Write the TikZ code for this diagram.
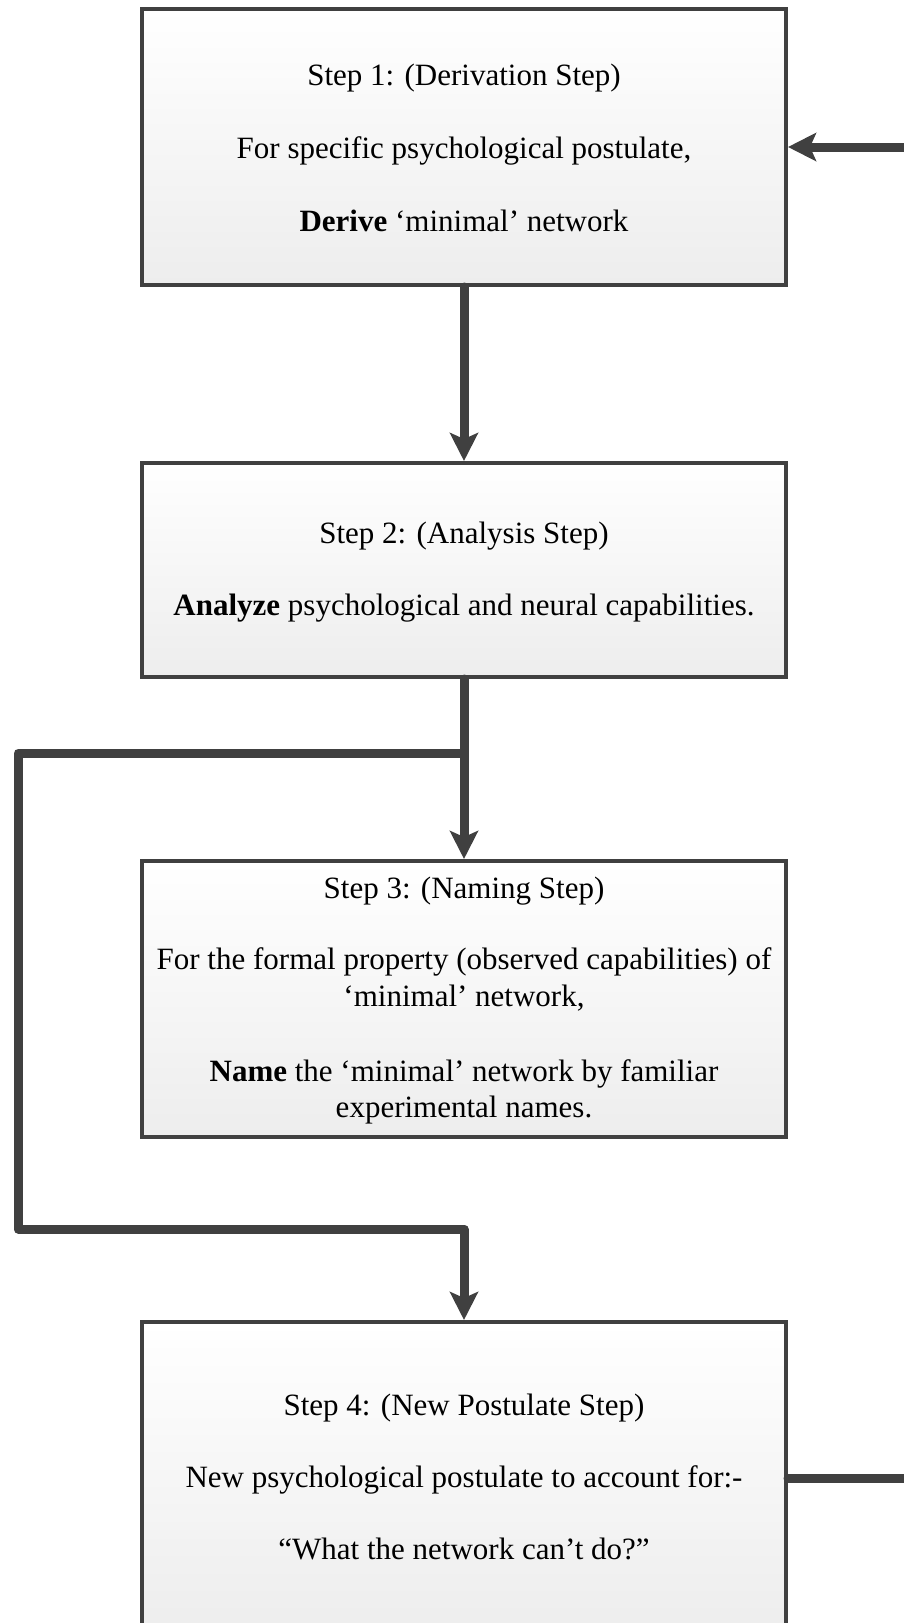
\documentclass[tikz,border=0pt]{standalone}
\usepackage{fontspec}
\setmainfont{Liberation Serif}
\usepackage{xcolor}
\definecolor{colLine}{HTML}{404040}
\definecolor{colShade}{HTML}{EDEDED}
\usetikzlibrary{arrows.meta, positioning, shadows}
\newcommand{\topline}{\rule{0pt}{26pt}}
\newcommand{\botline}{\rule[-8pt]{0pt}{8pt}}

\begin{document}
\begin{tikzpicture}[x=1pt, y=1pt, font=\fontsize{31}{36.5}\selectfont,
    stepbox/.style={rectangle, draw=colLine, line width=4pt,
        top color=white, bottom color=colShade, minimum width=644pt, align=center,
        drop shadow={shadow xshift=2pt, shadow yshift=-2pt, opacity=0.18}},
    flow/.style={draw=colLine, line width=9pt, line cap=round, line join=round,
        -{Stealth[length=28pt, width=28pt, inset=6pt]}}]
        \useasboundingbox (0,0) rectangle (903,-1623);
        % Step 1
        \node[stepbox, minimum height=276pt] (s1) at (464,-147)
              {\rule{0pt}{30pt}Step 1: (Derivation Step)\\[36.5pt]For specific psychological postulate,\\[36.5pt]\textbf{Derive} `minimal' network\botline};
        % Step 2
        \node[stepbox, minimum height=214pt, below=174pt of s1] (s2)
              {\topline Step 2: (Analysis Step)\\[35.5pt]\textbf{Analyze} psychological and neural capabilities.\botline};
        % Step 3
        \node[stepbox, minimum height=276pt, below=180pt of s2] (s3)
              {\topline Step 3: (Naming Step)\\[34.5pt]For the formal property (observed capabilities) of\\`minimal' network,\\[38.5pt]\textbf{Name} the `minimal' network by familiar\\experimental names.\botline};
        % Step 4
        \node[stepbox, minimum height=312pt, below=181pt of s3] (s4)
              {\topline Step 4: (New Postulate Step)\\[35.5pt]New psychological postulate to account for:-\\[35.5pt]``What the network can't do?''\botline};
        % Frecce
        \coordinate (split) at (464,-753);
        \coordinate (loopL) at (18,-1229);
        \coordinate (backR) at (960,-800);
        \draw[flow] (s1.south) -- (s2.north);
        \draw[flow] (s2.south) -- (s3.north);
        \draw[flow] (split) -| (loopL) -| (s4.north);
        \draw[flow] (s4.east) -| (backR) |- (s1.east);
    \end{tikzpicture}
\end{document}
